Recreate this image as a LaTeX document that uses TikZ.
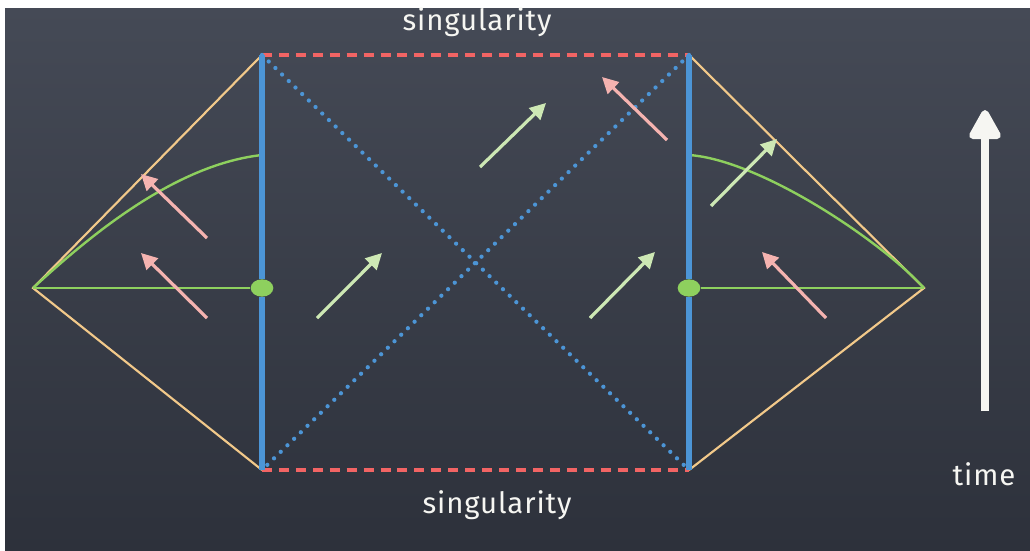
\documentclass[tikz,border=0pt]{standalone}
\usepackage{fontspec}
\setmainfont{Fira Sans}[LetterSpace=3]
\usetikzlibrary{arrows.meta,shapes.geometric}
\definecolor{boardtop}{HTML}{454A56}
\definecolor{boardbot}{HTML}{2D313B}
\definecolor{hblue}{HTML}{4C95D6}
\definecolor{hred}{HTML}{F26464}
\definecolor{horange}{HTML}{F2C98A}
\definecolor{hgreen}{HTML}{8ED05E}
\definecolor{lgreen}{HTML}{CDE8B4}
\definecolor{lpink}{HTML}{F5B3B0}
\definecolor{chalk}{HTML}{F6F6F2}
\tikzset{
  x=0.75pt, y=-0.75pt,
  horizon/.style={hblue, line width=3.8pt},
  singline/.style={hred, line width=3pt, dash pattern=on 7.5pt off 5.2pt},
  diagline/.style={hblue, line width=3.2pt, line cap=round, dash pattern=on 0pt off 7pt},
  edge/.style={horange, line width=1.6pt},
  slice/.style={hgreen, line width=1.8pt},
  futurearrow/.style={lgreen, line width=2.4pt, -{Triangle[length=12pt,width=12pt]}},
  pastarrow/.style={lpink, line width=2.4pt, -{Triangle[length=12pt,width=12pt]}},
  dot/.style={ellipse, fill=hgreen, minimum width=17pt, minimum height=13pt, inner sep=0pt},
  label/.style={text=chalk, anchor=base, font=\fontsize{22}{26}\selectfont}
}
\begin{document}
\begin{tikzpicture}
\useasboundingbox (0,0) rectangle (1030,550);
\fill[white] (0,0) rectangle (1030,550);
\shade[top color=boardtop, bottom color=boardbot] (5,8) rectangle (1030,550);

% corner coordinates
\coordinate (TL) at (262,55);
\coordinate (BL) at (262,470);
\coordinate (TR) at (689,55);
\coordinate (BR) at (689,470);
\coordinate (iL) at (33,288);
\coordinate (iR) at (924,288);
\coordinate (cL) at (262,155);
\coordinate (cR) at (689,155);

% singularities
\draw[singline] (TL) -- (TR);
\draw[singline] (BL) -- (BR);

% null boundaries
\draw[edge] (TL) -- (iL) -- (BL);
\draw[edge] (TR) -- (iR) -- (BR);

% horizons (dotted diagonals)
\draw[diagline] (TL) -- (BR);
\draw[diagline] (TR) -- (BL);

% green slices
\draw[slice] (iL) .. controls (80,245) and (170,165) .. (cL);
\draw[slice] (iR) .. controls (880,240) and (760,160) .. (cR);

% dots
\node[dot] (dL) at (262,288) {};
\node[dot] (dR) at (689,288) {};
\draw[slice] (iL) -- (dL.west);
\draw[slice] (dR.east) -- (iR);

% vertical horizon lines
\draw[horizon] (TL) -- (dL.north);
\draw[horizon] (dL.south) -- (BL);
\draw[horizon] (TR) -- (dR.north);
\draw[horizon] (dR.south) -- (BR);

% arrows
\coordinate (a1s) at (207,238); \coordinate (a1e) at (141,174);
\coordinate (a2s) at (207,318); \coordinate (a2e) at (141,253);
\coordinate (a3s) at (317,318); \coordinate (a3e) at (382,253);
\coordinate (a4s) at (480,167); \coordinate (a4e) at (546,103);
\coordinate (a5s) at (667,140); \coordinate (a5e) at (602,77);
\coordinate (a6s) at (590,318); \coordinate (a6e) at (655,252);
\coordinate (a7s) at (711,206); \coordinate (a7e) at (777,139);
\coordinate (a8s) at (826,318); \coordinate (a8e) at (762,252);
\draw[pastarrow] (a1s) -- (a1e);
\draw[pastarrow] (a2s) -- (a2e);
\draw[futurearrow] (a3s) -- (a3e);
\draw[futurearrow] (a4s) -- (a4e);
\draw[pastarrow] (a5s) -- (a5e);
\draw[futurearrow] (a6s) -- (a6e);
\draw[futurearrow] (a7s) -- (a7e);
\draw[pastarrow] (a8s) -- (a8e);

% time arrow
\coordinate (ts) at (985,411);
\coordinate (te) at (985,110);
\draw[chalk, line width=5.5pt, -{Triangle[length=25pt,width=26pt,round]}] (ts) -- (te);

% labels
\node[label] (topsing) at (477,30) {singularity};
\node[label] (botsing) at (497,513) {singularity};
\node[label] (time) at (984,485) {time};
\end{tikzpicture}
\end{document}
